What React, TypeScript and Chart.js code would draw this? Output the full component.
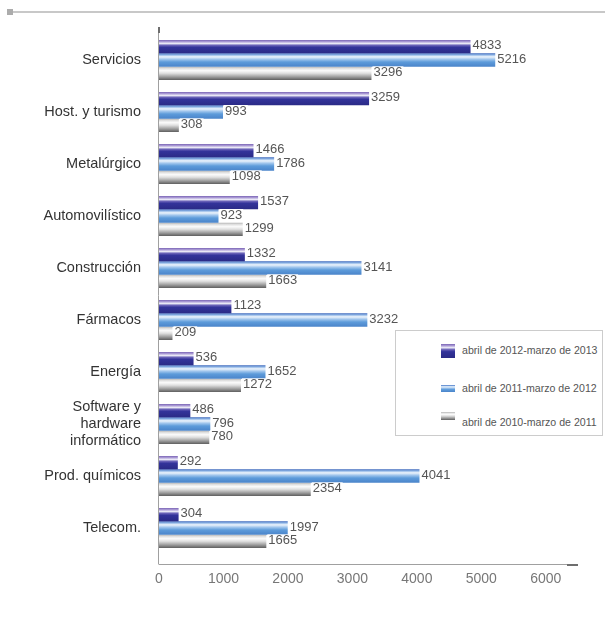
import React, { useEffect, useRef } from "react";
import { Chart, registerables } from "chart.js";

Chart.register(...registerables);

const categories: (string | string[])[] = [
  "Servicios",
  "Host. y turismo",
  "Metalúrgico",
  "Automovilístico",
  "Construcción",
  "Fármacos",
  "Energía",
  ["Software y", "hardware", "informático"],
  "Prod. químicos",
  "Telecom.",
];

const seriesNames = [
  "abril de 2012-marzo de 2013",
  "abril de 2011-marzo de 2012",
  "abril de 2010-marzo de 2011",
];

const values2012_2013 = [4833, 3259, 1466, 1537, 1332, 1123, 536, 486, 292, 304];
const values2011_2012 = [5216, 993, 1786, 923, 3141, 3232, 1652, 796, 4041, 1997];
const values2010_2011 = [3296, 308, 1098, 1299, 1663, 209, 1272, 780, 2354, 1665];

const xTickValues = [0, 1000, 2000, 3000, 4000, 5000, 6000];
const xMin = 0;
const xMax = 6500;

const gradientStops: [number, string][][] = [
  [
    [0, "#7a64b4"],
    [0.12, "#a898d4"],
    [0.26, "#ecebf7"],
    [0.4, "#6a62b8"],
    [0.55, "#33339a"],
    [1, "#2a2a86"],
  ],
  [
    [0, "#3d68bc"],
    [0.12, "#8fb6e6"],
    [0.26, "#eef5fc"],
    [0.45, "#9ec4ec"],
    [0.65, "#5d9bda"],
    [1, "#4a84ca"],
  ],
  [
    [0, "#b4b4b4"],
    [0.15, "#e4e4e4"],
    [0.3, "#fbfbfb"],
    [0.5, "#dedede"],
    [0.75, "#a0a0a0"],
    [1, "#5e5e5e"],
  ],
];

const cssGrad = (stops: [number, string][]) =>
  "linear-gradient(to bottom, " +
  stops.map(([p, c]) => `${c} ${Math.round(p * 100)}%`).join(", ") +
  ")";

const barGradientPlugin = {
  id: "barGradient",
  beforeDatasetsDraw(chart: any) {
    const ctx = chart.ctx;
    chart.data.datasets.forEach((_: any, di: number) => {
      const meta = chart.getDatasetMeta(di);
      meta.data.forEach((el: any) => {
        const top = el.y - el.height / 2;
        const g = ctx.createLinearGradient(0, top, 0, top + el.height);
        gradientStops[di].forEach(([p, c]) => g.addColorStop(p, c));
        el.options = Object.assign({}, el.options, { backgroundColor: g });
      });
    });
  },
};

const valueLabelPlugin = {
  id: "valueLabels",
  afterDatasetsDraw(chart: any) {
    const ctx = chart.ctx;
    ctx.save();
    ctx.font = "13px 'Liberation Sans', Arial, sans-serif";
    ctx.textBaseline = "middle";
    ctx.textAlign = "left";
    chart.data.datasets.forEach((ds: any, di: number) => {
      const meta = chart.getDatasetMeta(di);
      meta.data.forEach((el: any, i: number) => {
        const txt = String(ds.data[i]);
        const x = el.x + 1;
        const y = el.y - 1;
        const w = ctx.measureText(txt).width;
        ctx.fillStyle = "#ffffff";
        ctx.fillRect(x, y - 6, w + 2, 12);
        ctx.fillStyle = "#555555";
        ctx.fillText(txt, x + 1, y);
      });
    });
    ctx.restore();
  },
};

const axisLinesPlugin = {
  id: "axisLines",
  afterDraw(chart: any) {
    const ctx = chart.ctx;
    const xs = chart.scales.x;
    const a = chart.chartArea;
    const x0 = xs.getPixelForValue(0);
    const x1 = xs.getPixelForValue(xMax);
    const yTop = a.top - 7;
    const yBot = a.bottom + 10;
    ctx.save();
    ctx.strokeStyle = "#a0a0a0";
    ctx.lineWidth = 1;
    ctx.beginPath();
    ctx.moveTo(x0 - 0.5, yTop);
    ctx.lineTo(x0 - 0.5, yBot);
    ctx.moveTo(x0 - 0.5, yBot + 0.5);
    ctx.lineTo(x1, yBot + 0.5);
    ctx.stroke();
    ctx.fillStyle = "#6e6e6e";
    ctx.fillRect(x0 - 1, yTop, 2, 6);
    ctx.fillRect(x1 - 11, yBot, 11, 2);
    ctx.restore();
  },
};

export default function App() {
  const canvasRef = useRef<HTMLCanvasElement | null>(null);

  useEffect(() => {
    document.body.style.margin = "0";
    const canvas = canvasRef.current;
    if (!canvas) return;
    const chart = new Chart(canvas, {
      type: "bar",
      data: {
        labels: categories as any,
        datasets: [
          { label: seriesNames[0], data: values2012_2013, backgroundColor: "#2e2e8e" },
          { label: seriesNames[1], data: values2011_2012, backgroundColor: "#5b9ad8" },
          { label: seriesNames[2], data: values2010_2011, backgroundColor: "#999999" },
        ],
      },
      options: {
        indexAxis: "y",
        responsive: false,
        animation: false,
        categoryPercentage: 0.77,
        barPercentage: 1,
        layout: { padding: { top: 34, right: 27, left: 0, bottom: 0 } },
        plugins: {
          legend: { display: false },
          tooltip: { enabled: false },
        },
        scales: {
          x: {
            type: "linear",
            min: xMin,
            max: xMax,
            grid: { display: false, drawTicks: false },
            border: { display: false },
            afterBuildTicks(scale: any) {
              scale.ticks = xTickValues.map((v) => ({ value: v }));
            },
            ticks: {
              autoSkip: false,
              maxRotation: 0,
              padding: 17,
              color: "#777777",
              font: { family: "'Liberation Sans Narrow', 'Arial Narrow', 'Liberation Sans', sans-serif", size: 14 },
              callback: (v: any) => String(v),
            },
            afterFit(scale: any) {
              scale.height = 67;
            },
          },
          y: {
            type: "category",
            grid: { display: false, drawTicks: false },
            border: { display: false },
            ticks: {
              autoSkip: false,
              padding: 18,
              color: "#333333",
              font: { family: "'Liberation Sans', Arial, sans-serif", size: 14.5, lineHeight: 1.15 },
            },
            afterFit(scale: any) {
              scale.width = 159;
            },
          },
        },
      } as any,
      plugins: [barGradientPlugin, valueLabelPlugin, axisLinesPlugin],
    });
    return () => chart.destroy();
  }, []);

  const swatchStyle = (i: number, h: number): React.CSSProperties => ({
    position: "absolute",
    left: 441,
    width: 14,
    height: h,
    background: cssGrad(gradientStops[i]),
  });

  const legendText: React.CSSProperties = {
    position: "absolute",
    left: 462,
    fontFamily: "'Liberation Sans', Arial, sans-serif",
    fontSize: 10.6,
    color: "#555",
    lineHeight: "13px",
    whiteSpace: "nowrap",
  };

  return (
    <div style={{ position: "relative", width: 605, height: 621, overflow: "hidden", background: "#fff" }}>
      <div style={{ position: "absolute", left: 7, top: 9, width: 6, height: 6, background: "#acacac" }} />
      <div style={{ position: "absolute", left: 13, top: 11, right: 0, height: 2, background: "#c8c8c8" }} />
      <canvas ref={canvasRef} width={605} height={621} style={{ position: "absolute", left: 0, top: 0 }} />
      <div
        style={{
          position: "absolute",
          left: 395,
          top: 330,
          width: 208,
          height: 106,
          border: "1px solid #cccccc",
          background: "#fff",
          boxSizing: "border-box",
        }}
      />
      <div style={{ ...swatchStyle(0, 14), top: 344 }} />
      <div style={{ ...legendText, top: 344 }}>{seriesNames[0]}</div>
      <div style={{ ...swatchStyle(1, 7), top: 385 }} />
      <div style={{ ...legendText, top: 382 }}>{seriesNames[1]}</div>
      <div style={{ ...swatchStyle(2, 8), top: 412 }} />
      <div style={{ ...legendText, top: 416 }}>{seriesNames[2]}</div>
    </div>
  );
}
